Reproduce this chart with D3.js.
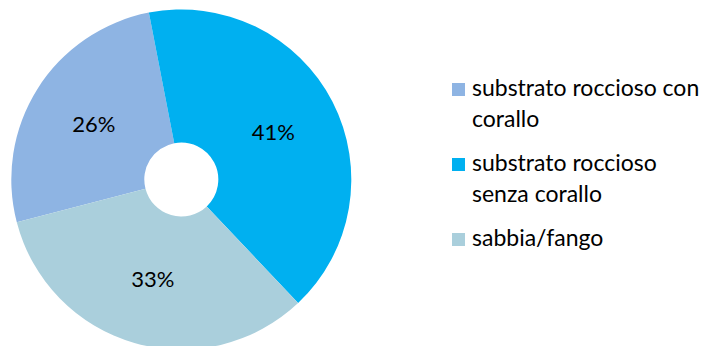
<!DOCTYPE html>
<html>
<head>
<meta charset="utf-8">
<script src="https://cdn.jsdelivr.net/npm/d3@7"></script>
<style>
  html, body { margin: 0; padding: 0; background: #fff; }
  svg { display: block; }
  text { font-family: Lato, "Liberation Sans", sans-serif; fill: #000; }
</style>
</head>
<body>
<svg id="chart" width="703" height="346"></svg>
<script>
// Substrate composition (share of surveyed area)
const categories = ["substrato roccioso con corallo", "substrato roccioso senza corallo", "sabbia/fango"];
const legendLines = [["substrato roccioso con", "corallo"], ["substrato roccioso", "senza corallo"], ["sabbia/fango"]];
const values = [26, 41, 33];
const colors = ["#8EB4E3", "#00B0F0", "#AACFDC"];

const svg = d3.select("#chart");
const cx = 181.3, cy = 179.5, outerR = 170, innerR = 37;

const color = d3.scaleOrdinal().domain(categories).range(colors);

const startDeg = -104.6;
const pie = d3.pie()
  .value(d => d.value)
  .sort(null)
  .startAngle(startDeg * Math.PI / 180)
  .endAngle((startDeg + 360) * Math.PI / 180);

const data = categories.map((c, i) => ({ name: c, value: values[i] }));
const arcs = pie(data);

const arc = d3.arc().innerRadius(innerR).outerRadius(outerR);

const g = svg.append("g").attr("transform", `translate(${cx},${cy})`);

g.selectAll("path.slice")
  .data(arcs)
  .join("path")
  .attr("class", "slice")
  .attr("d", arc)
  .attr("fill", d => color(d.data.name));

// Percentage labels at slice centroids
g.selectAll("text.pct")
  .data(arcs)
  .join("text")
  .attr("class", "pct")
  .attr("x", d => arc.centroid(d)[0])
  .attr("y", d => arc.centroid(d)[1])
  .attr("text-anchor", "middle")
  .attr("dy", "0.35em")
  .style("font-size", "22px")
  .text(d => d.data.value + "%");

// Legend
const legend = svg.append("g").attr("transform", "translate(452,0)");
const itemY = d3.scalePoint().domain(categories).range([96, 246]);

const items = legend.selectAll("g.item")
  .data(categories)
  .join("g")
  .attr("class", "item")
  .attr("transform", d => `translate(0,${itemY(d)})`);

items.append("rect")
  .attr("x", 0)
  .attr("y", -13)
  .attr("width", 13)
  .attr("height", 13)
  .attr("fill", d => color(d));

items.append("text")
  .attr("x", 20)
  .style("font-size", "23px")
  .selectAll("tspan")
  .data((d, i) => legendLines[i])
  .join("tspan")
  .attr("x", 20)
  .attr("y", (d, i) => i * 30.5)
  .text(d => d);
</script>
</body>
</html>
